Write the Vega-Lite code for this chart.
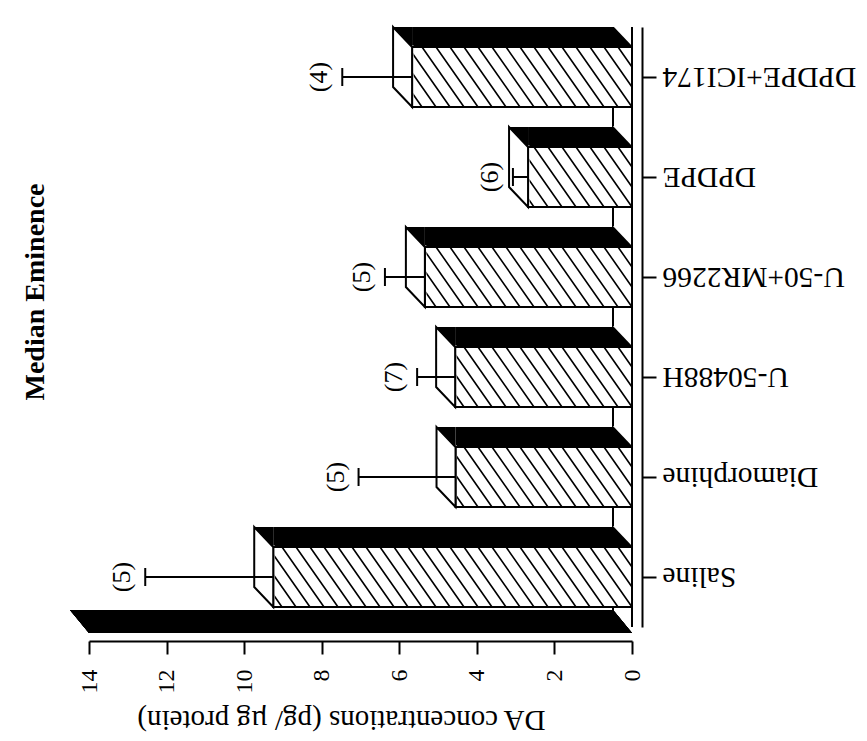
{
  "$schema": "https://vega.github.io/schema/vega-lite/v6.json",
  "width": 543,
  "height": 600,
  "autosize": {"type": "none"},
  "padding": {"left": 89, "top": 27, "right": 235, "bottom": 114},
  "background": "white",
  "config": {"view": {"stroke": null}, "font": "Liberation Serif"},
  "title": {"text": "Median Eminence", "orient": "left", "font": "Liberation Serif", "fontSize": 28, "fontWeight": "bold", "color": "black", "offset": 20, "anchor": "middle", "dx": 35},
  "data": {"values": [
    {"treatment": "DPDPE+ICI174", "mean": 5.67, "upper": 7.47, "n": "(4)"},
    {"treatment": "DPDPE", "mean": 2.68, "upper": 3.07, "n": "(6)"},
    {"treatment": "U-50+MR2266", "mean": 5.34, "upper": 6.37, "n": "(5)"},
    {"treatment": "U-50488H", "mean": 4.56, "upper": 5.54, "n": "(7)"},
    {"treatment": "Diamorphine", "mean": 4.55, "upper": 7.05, "n": "(5)"},
    {"treatment": "Saline", "mean": 9.25, "upper": 12.55, "n": "(5)"}
  ]},
  "layer": [
    {
      "mark": {"type": "bar", "color": "black", "yOffset": -20},
      "encoding": {
        "x": {"field": "mean", "type": "quantitative",
          "scale": {"domain": [0, 14], "reverse": true, "nice": false, "zero": true},
          "axis": {"title": "DA concentrations (pg/ µg protein)", "values": [0, 2, 4, 6, 8, 10, 12, 14], "grid": false, "offset": 14,
            "domainColor": "black", "domainWidth": 2, "tickColor": "black", "tickWidth": 2, "tickSize": 13,
            "labelAngle": 270, "labelFontSize": 24, "labelFont": "Liberation Serif", "labelColor": "black", "labelPadding": 15, "labelFlush": false, "labelOverlap": false,
            "titleFontSize": 29, "titleFont": "Liberation Serif", "titleFontWeight": "normal", "titleColor": "black", "titleAngle": 180, "titleBaseline": "middle", "titleAlign": "center", "titleX": 252, "titleY": 78}},
        "y": {"field": "treatment", "type": "nominal",
          "scale": {"type": "band", "domain": ["DPDPE+ICI174", "DPDPE", "U-50+MR2266", "U-50488H", "Diamorphine", "Saline"], "paddingInner": 0.4, "paddingOuter": 0.2},
          "axis": {"title": null, "orient": "right", "offset": 10, "domainColor": "black", "domainWidth": 2, "tickColor": "black", "tickWidth": 2, "tickSize": 14,
            "labelAngle": 180, "labelAlign": "right", "labelBaseline": "middle", "labelFontSize": 29.5, "labelFont": "Liberation Serif", "labelColor": "black", "labelPadding": 6, "labelLimit": 0}}
      }
    },
    {
      "mark": {"type": "rule", "xOffset": -19, "stroke": "black", "strokeWidth": 1.5},
      "encoding": {"x": {"datum": 0}}
    },
    {
      "mark": {"type": "bar", "fill": "white"},
      "encoding": {"x": {"field": "mean", "type": "quantitative"}, "y": {"field": "treatment", "type": "nominal"}}
    },
    {
      "mark": {"type": "point", "filled": false, "size": 4, "stroke": "black", "strokeWidth": 1.6, "opacity": 1,
        "shape": "M-14,-30L0,-10M-28,-30L0,10M-42,-30L0,30M-56,-30L-14,30M-70,-30L-28,30M-84,-30L-42,30M-98,-30L-56,30M-112,-30L-70,30M-126,-30L-84,30M-140,-30L-98,30M-154,-30L-112,30M-168,-30L-126,30M-182,-30L-140,30M-196,-30L-154,30M-210,-30L-168,30M-224,-30L-182,30M-238,-30L-196,30M-252,-30L-210,30M-266,-30L-224,30M-280,-30L-238,30M-294,-30L-252,30M-308,-30L-266,30M-322,-30L-280,30M-336,-30L-294,30M-350,-30L-308,30M-364,-30L-322,30M-378,-30L-336,30M-392,-30L-350,30M-406,-30L-364,30M-420,-30L-378,30M-434,-30L-392,30"},
      "encoding": {"x": {"datum": 0}, "y": {"field": "treatment", "type": "nominal"}}
    },
    {
      "mark": {"type": "bar", "fill": "white", "stroke": "white", "strokeWidth": 3},
      "encoding": {"x": {"field": "mean", "type": "quantitative"}, "x2": {"datum": 14}, "y": {"field": "treatment", "type": "nominal"}}
    },
    {
      "mark": {"type": "bar", "fillOpacity": 0, "stroke": "black", "strokeWidth": 2},
      "encoding": {"x": {"field": "mean", "type": "quantitative"}, "y": {"field": "treatment", "type": "nominal"}}
    },
    {
      "mark": {"type": "point", "filled": true, "size": 4, "fill": "white", "stroke": "black", "strokeWidth": 2, "opacity": 1, "shape": "M0,-30L-19,-50L-19,10L0,30Z"},
      "encoding": {"x": {"field": "mean", "type": "quantitative"}, "y": {"field": "treatment", "type": "nominal"}}
    },
    {
      "mark": {"type": "point", "filled": true, "size": 4, "fill": "black", "strokeWidth": 0, "opacity": 1, "shape": "M-19,-50L0,-50L0,-30Z"},
      "encoding": {"x": {"field": "mean", "type": "quantitative"}, "y": {"field": "treatment", "type": "nominal"}}
    },
    {
      "mark": {"type": "point", "filled": true, "size": 4, "fill": "white", "strokeWidth": 0, "opacity": 1, "shape": "M-19,-51L1,-51L1,-30Z"},
      "encoding": {"x": {"datum": 0}, "y": {"field": "treatment", "type": "nominal"}}
    },
    {
      "mark": {"type": "rule", "stroke": "black", "strokeWidth": 2},
      "encoding": {"x": {"field": "mean", "type": "quantitative"}, "x2": {"field": "upper"}, "y": {"field": "treatment", "type": "nominal"}}
    },
    {
      "mark": {"type": "tick", "color": "black", "size": 18, "thickness": 2, "opacity": 1},
      "encoding": {"x": {"field": "upper", "type": "quantitative"}, "y": {"field": "treatment", "type": "nominal"}}
    },
    {
      "mark": {"type": "text", "angle": 270, "dy": -23, "fontSize": 26, "font": "Liberation Serif", "color": "black", "align": "center", "baseline": "middle"},
      "encoding": {"x": {"field": "upper", "type": "quantitative"}, "y": {"field": "treatment", "type": "nominal"}, "text": {"field": "n"}}
    },
    {
      "mark": {"type": "point", "filled": true, "size": 4, "fill": "black", "strokeWidth": 0, "opacity": 1, "shape": "M-562,33L-19,33L0,56L-543,56Z"},
      "encoding": {"x": {"datum": 0}, "y": {"datum": "Saline"}}
    },
    {
      "mark": {"type": "rule", "stroke": "black", "strokeWidth": 2},
      "encoding": {"x": {"datum": 0}}
    }
  ]
}
